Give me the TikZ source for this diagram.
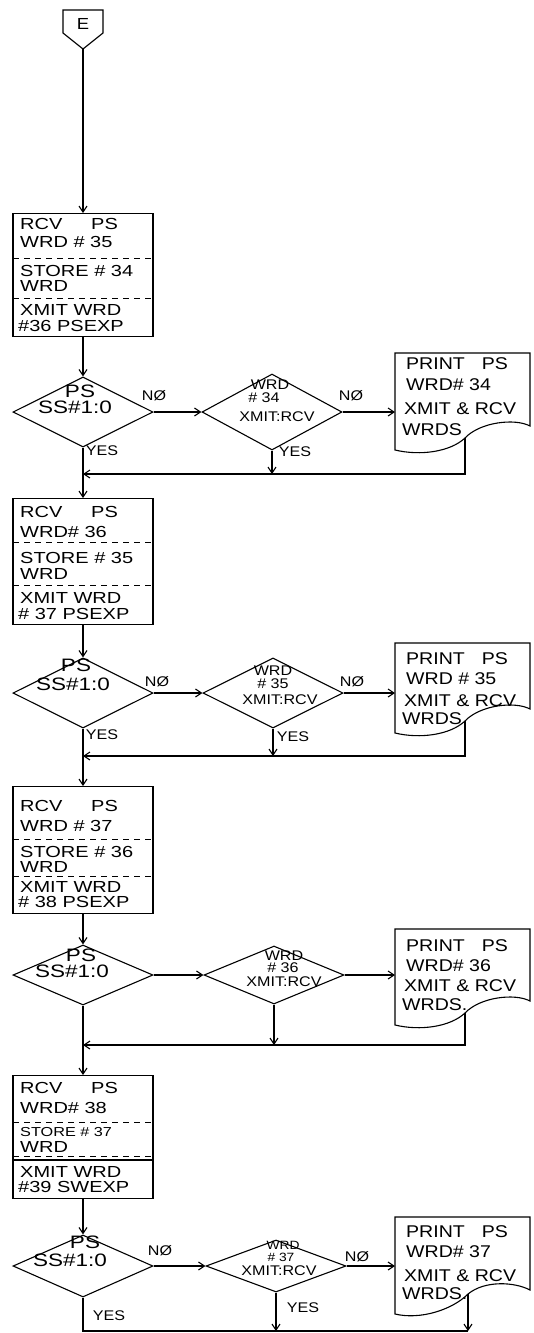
\documentclass[tikz,border=0pt]{standalone}
\usepackage{fontspec}
\setmainfont[FakeStretch=1.15]{Liberation Sans}
\newfontfamily\widehand[FakeStretch=1.25]{Liberation Sans}
\usetikzlibrary{shapes.geometric,arrows.meta}
\begin{document}
\begin{tikzpicture}[x=1pt,y=-1pt,
 ln/.style={line width=1.1pt},
 arr/.style={ln,-{Straight Barb[length=6pt,width=8pt]}},
 box/.style={draw,ln,rectangle,minimum width=140pt,inner sep=0pt,anchor=north},
 dia/.style={draw,ln,diamond,inner sep=0pt,minimum width=140pt},
 sep/.style={line width=0.9pt,dash pattern=on 6pt off 5pt},
 bt/.style={font=\widehand\fontsize{16}{16}\selectfont,inner sep=0pt,anchor=west},
 bts/.style={font=\widehand\fontsize{13}{13}\selectfont,inner sep=0pt,anchor=west},
 dt/.style={font=\fontsize{14}{14}\selectfont,inner sep=0pt},
 dts/.style={font=\fontsize{12}{12}\selectfont,inner sep=0pt},
 st/.style={font=\widehand\fontsize{18}{18}\selectfont,inner sep=0pt},
 lab/.style={font=\fontsize{14}{14}\selectfont,inner sep=0pt},
 pt/.style={font=\fontsize{17}{17}\selectfont,inner sep=0pt,anchor=west},
 doc/.style={inner sep=0pt,minimum width=135pt,anchor=north west}
]
\useasboundingbox (0,0) rectangle (534,1333);

% ---------- E connector ----------
\draw[ln] (63,10) -- (103,10) -- (103,33) -- (83,49) -- (63,33) -- cycle;
\node[font=\fontsize{16}{16}\selectfont,inner sep=0pt] (etxt) at (83,24) {E};
\coordinate (eb) at (83,49);

% ---------- Row 1 ----------
\node[box,minimum height=123pt] (b1) at (83,213) {};
\draw[sep] (13,258) -- (153,258);
\draw[sep] (13,298) -- (153,298);
\node[bt] (b1a) at (20,224) {RCV\hspace{1.8em}PS};
\node[bt] (b1b) at (20,242) {WRD \# 35};
\node[bt] (b1c) at (20,271) {STORE \# 34};
\node[bt] (b1d) at (20,286) {WRD};
\node[bt] (b1e) at (20,310) {XMIT WRD};
\node[bt] (b1f) at (18,326) {\#36 PSEXP};

\node[dia,minimum height=70pt] (d1) at (83,412) {};
\node[st] (d1a) at (80,391) {PS};
\node[st] (d1b) at (75,407) {SS\#1:0};
\node[dia,minimum height=76pt] (d2) at (272,412) {};
\node[dt] (d2a) at (270,385) {WRD};
\node[dt] (d2b) at (264,398) {\# 34};
\node[dt] (d2c) at (277,417) {XMIT:RCV};

\node[doc,minimum height=97pt] (p1) at (395,353) {};
\draw[ln] (395,353) -- (530,353) -- (530,426) .. controls (515,418) and (480,422) .. (465,438)
  .. controls (450,452) and (420,456) .. (395,450) -- cycle;
\coordinate (j1) at (465,438);
\node[pt] (p1a) at (406,364) {PRINT\hspace{1em}PS};
\node[pt] (p1b) at (406,385) {WRD\# 34};
\node[pt] (p1c) at (404,409) {XMIT \& RCV};
\node[pt] (p1d) at (402,430) {WRDS};

\node[lab] (n1a) at (154,396) {NØ};
\node[lab] (n1b) at (351,396) {NØ};
\node[lab] (y1a) at (102,451) {YES};
\node[lab] (y1b) at (295,452) {YES};
\coordinate (m1) at (83,474);

% ---------- Row 2 ----------
\node[box,minimum height=126pt] (b2) at (83,498) {};
\draw[sep] (13,542) -- (153,542);
\draw[sep] (13,585) -- (153,585);
\node[bt] (b2a) at (20,512) {RCV\hspace{1.8em}PS};
\node[bt] (b2b) at (20,532) {WRD\# 36};
\node[bt] (b2c) at (20,558) {STORE \# 35};
\node[bt] (b2d) at (20,574) {WRD};
\node[bt] (b2e) at (20,598) {XMIT WRD};
\node[bt] (b2f) at (18,614) {\# 37 PSEXP};

\node[dia,minimum height=70pt] (d3) at (83,693) {};
\node[st] (d3a) at (76,665) {PS};
\node[st] (d3b) at (73,684) {SS\#1:0};
\node[dia,minimum height=70pt] (d4) at (273,693) {};
\node[dt] (d4a) at (273,671) {WRD};
\node[dt] (d4b) at (273,684) {\# 35};
\node[dt] (d4c) at (280,700) {XMIT:RCV};

\node[doc,minimum height=90pt] (p2) at (395,643) {};
\draw[ln] (395,643) -- (530,643) -- (530,709) .. controls (515,701) and (480,705) .. (465,721)
  .. controls (450,735) and (420,739) .. (395,733) -- cycle;
\coordinate (j2) at (465,721);
\node[pt] (p2a) at (406,659) {PRINT\hspace{1em}PS};
\node[pt] (p2b) at (406,679) {WRD \# 35};
\node[pt] (p2c) at (404,701) {XMIT \& RCV};
\node[pt] (p2d) at (402,719) {WRDS};

\node[lab] (n2a) at (157,682) {NØ};
\node[lab] (n2b) at (352,682) {NØ};
\node[lab] (y2a) at (102,735) {YES};
\node[lab] (y2b) at (293,737) {YES};
\coordinate (m2) at (83,756);

% ---------- Row 3 ----------
\node[box,minimum height=127pt] (b3) at (83,786) {};
\draw[sep] (13,839) -- (153,839);
\draw[sep] (13,876) -- (153,876);
\node[bt] (b3a) at (20,806) {RCV\hspace{1.8em}PS};
\node[bt] (b3b) at (20,826) {WRD \# 37};
\node[bt] (b3c) at (20,852) {STORE \# 36};
\node[bt] (b3d) at (20,867) {WRD};
\node[bt] (b3e) at (20,887) {XMIT WRD};
\node[bt] (b3f) at (18,902) {\# 38 PSEXP};

\node[dia,minimum height=60pt] (d5) at (83,975) {};
\node[st] (d5a) at (81,955) {PS};
\node[st] (d5b) at (72,971) {SS\#1:0};
\node[dia,minimum height=58pt] (d6) at (274,975) {};
\node[dt] (d6a) at (284,956) {WRD};
\node[dt] (d6b) at (283,968) {\# 36};
\node[dt] (d6c) at (284,982) {XMIT:RCV};

\node[doc,minimum height=96pt] (p3) at (395,929) {};
\draw[ln] (395,929) -- (530,929) -- (530,1001) .. controls (515,993) and (480,997) .. (465,1013)
  .. controls (450,1027) and (420,1031) .. (395,1025) -- cycle;
\coordinate (j3) at (465,1013);
\node[pt] (p3a) at (406,946) {PRINT\hspace{1em}PS};
\node[pt] (p3b) at (406,966) {WRD\# 36};
\node[pt] (p3c) at (404,986) {XMIT \& RCV};
\node[pt] (p3d) at (402,1005) {WRDS.};
\coordinate (m3) at (83,1045);

% ---------- Row 4 ----------
\node[box,minimum height=123pt] (b4) at (83,1075) {};
\draw[sep] (13,1122) -- (153,1122);
\draw[sep] (13,1156) -- (153,1156);
\draw[ln] (13,1160) -- (153,1160);
\node[bt] (b4a) at (20,1088) {RCV\hspace{1.8em}PS};
\node[bt] (b4b) at (20,1108) {WRD\# 38};
\node[bts] (b4c) at (20,1132) {STORE \# 37};
\node[bt] (b4d) at (20,1147) {WRD};
\node[bt] (b4e) at (20,1172) {XMIT WRD};
\node[bt] (b4f) at (18,1187) {\#39 SWEXP};

\node[dia,minimum height=62pt] (d7) at (83,1266) {};
\node[st] (d7a) at (85,1242) {PS};
\node[st] (d7b) at (70,1260) {SS\#1:0};
\node[dia,minimum height=52pt] (d8) at (276,1266) {};
\node[dts] (d8a) at (283,1245) {WRD};
\node[dts] (d8b) at (281,1257) {\# 37};
\node[dt] (d8c) at (279,1271) {XMIT:RCV};

\node[doc,minimum height=97pt] (p4) at (395,1217) {};
\draw[ln] (395,1217) -- (530,1217) -- (530,1290) .. controls (515,1282) and (485,1280) .. (468,1294)
  .. controls (452,1310) and (420,1320) .. (395,1314) -- cycle;
\coordinate (j4) at (468,1294);
\node[pt] (p4a) at (406,1232) {PRINT\hspace{1em}PS};
\node[pt] (p4b) at (406,1252) {WRD\# 37};
\node[pt] (p4c) at (404,1276) {XMIT \& RCV};
\node[pt] (p4d) at (402,1294) {WRDS.};

\node[lab] (n4a) at (160,1251) {NØ};
\node[lab] (n4b) at (357,1257) {NØ};
\node[lab] (y4a) at (109,1316) {YES};
\node[lab] (y4b) at (303,1308) {YES};
\coordinate (m4) at (83,1331);
\coordinate (e4) at (468,1331);

% ---------- Connectors ----------
\draw[arr] (eb) -- (b1.north);
\draw[arr] (b1.south) -- (d1.north);
\draw[arr] (d1.east) -- (d2.west);
\draw[arr] (d2.east) -- (d2.east -| p1.west);
\draw[arr] (d1.south) -- (m1) -- (b2.north);
\draw[arr] (d2.south) -- (d2.south |- m1);
\draw[arr] (j1) |- (m1);

\draw[arr] (b2.south) -- (d3.north);
\draw[arr] (d3.east) -- (d4.west);
\draw[arr] (d4.east) -- (d4.east -| p2.west);
\draw[arr] (d3.south) -- (m2) -- (b3.north);
\draw[arr] (d4.south) -- (d4.south |- m2);
\draw[arr] (j2) |- (m2);

\draw[arr] (b3.south) -- (d5.north);
\draw[arr] (d5.east) -- (d6.west);
\draw[arr] (d6.east) -- (d6.east -| p3.west);
\draw[arr] (d5.south) -- (m3) -- (b4.north);
\draw[arr] (d6.south) -- (d6.south |- m3);
\draw[arr] (j3) |- (m3);

\draw[arr] (b4.south) -- (d7.north);
\draw[arr] (d7.east) -- (d8.west);
\draw[arr] (d8.east) -- (d8.east -| p4.west);
\draw[ln] (d7.south) -- (m4) -- (e4);
\draw[arr] (d8.south) -- (d8.south |- m4);
\draw[arr] (j4) -- (e4);
\end{tikzpicture}
\end{document}
